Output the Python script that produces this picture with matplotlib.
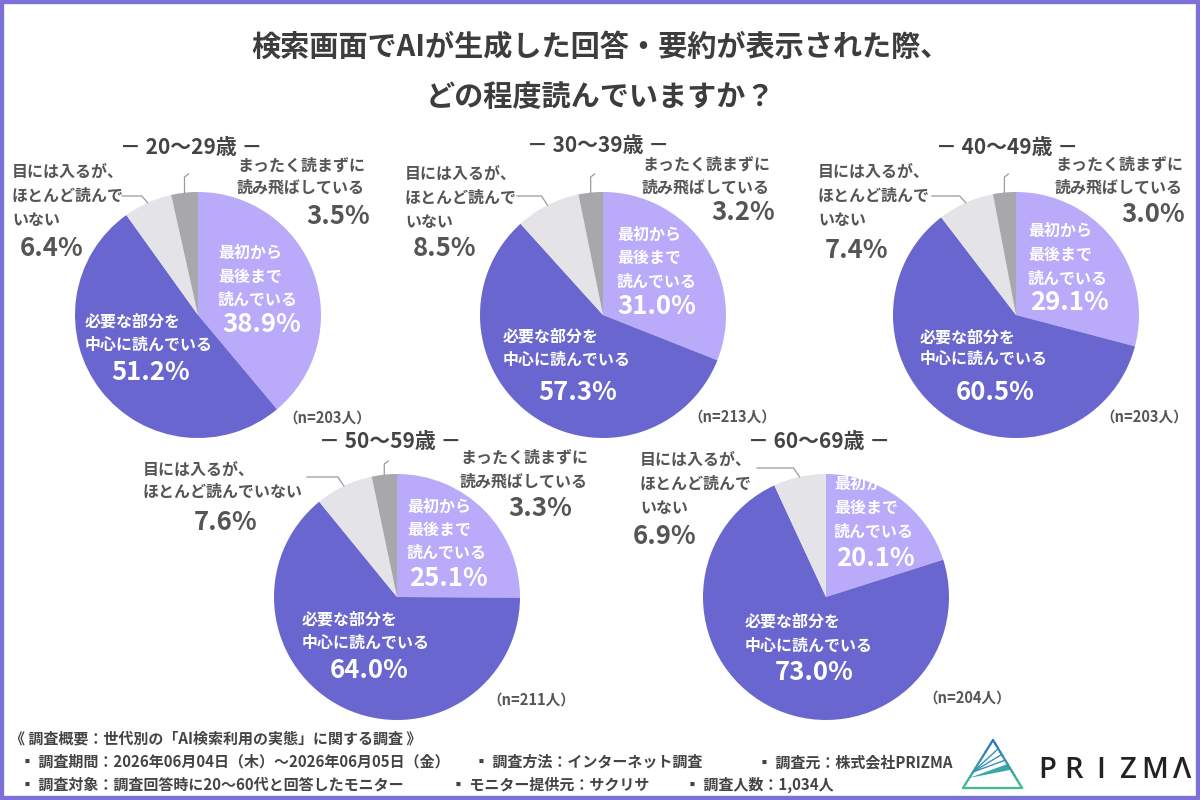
import matplotlib
matplotlib.use("Agg")
import matplotlib.pyplot as plt
import numpy as np
from matplotlib.patches import Rectangle, Polygon

JP = "Noto Sans CJK JP"
plt.rcParams["font.family"] = [JP, "DejaVu Sans"]

# --- data -------------------------------------------------------------------
age_groups = ["20〜29歳", "30〜39歳", "40〜49歳", "50〜59歳", "60〜69歳"]
sample_sizes = [203, 213, 203, 211, 204]
read_all = [38.9, 31.0, 29.1, 25.1, 20.1]        # 最初から最後まで読んでいる
read_needed = [51.2, 57.3, 60.5, 64.0, 73.0]     # 必要な部分を中心に読んでいる
glance_only = [6.4, 8.5, 7.4, 7.6, 6.9]          # 目には入るが、ほとんど読んでいない
skip_all = [3.5, 3.2, 3.0, 3.3, 0.0]             # まったく読まずに読み飛ばしている

lbl_all = ["最初から", "最後まで", "読んでいる"]
lbl_needed = ["必要な部分を", "中心に読んでいる"]
lbl_glance = ["目には入るが、", "ほとんど読んで", "いない"]
lbl_glance_wide = ["目には入るが、", "ほとんど読んでいない"]
lbl_skip = ["まったく読まずに", "読み飛ばしている"]

title_lines = ["検索画面でAIが生成した回答・要約が表示された際、", "どの程度読んでいますか？"]
footer_head = "《 調査概要：世代別の「AI検索利用の実態」に関する調査 》"
footer_row1 = ["▪ 調査期間：2026年06月04日（木）〜2026年06月05日（金）",
               "▪ 調査方法：インターネット調査", "▪ 調査元：株式会社PRIZMA"]
footer_row2 = ["▪ 調査対象：調査回答時に20〜60代と回答したモニター",
               "▪ モニター提供元：サクリサ", "▪ 調査人数：1,034人"]

# --- layout (pixel coords, origin top-left) ---------------------------------
layout = [
    dict(c=(198, 315), head=(191, 147), skip=(237, [166, 188]), skip_pct=(338, 217),
         gl=(12, [172, 196, 220]), gl_pct=(52, 249), gl_start=(122, 196),
         inn=(218, [253, 277, 300]), inn_pct=(262, 324),
         nd=(85, [322, 345]), nd_pct=(151, 373), n=(327, 418), lead_top=177),
    dict(c=(603, 315), head=(598, 146), skip=(642, [165, 187]), skip_pct=(743, 213),
         gl=(405, [174, 198, 222]), gl_pct=(445, 248), gl_start=(517, 196),
         inn=(617, [235, 258, 282]), inn_pct=(657, 306),
         nd=(503, [337, 360]), nd_pct=(578, 392), n=(732, 417), lead_top=177),
    dict(c=(1016, 315), head=(1007, 147), skip=(1055, [165, 188]), skip_pct=(1153, 214),
         gl=(818, [172, 196, 220]), gl_pct=(857, 250), gl_start=(932, 196),
         inn=(1028, [231, 255, 279]), inn_pct=(1069, 302),
         nd=(920, [338, 359]), nd_pct=(995, 392), n=(1144, 417), lead_top=177),
    dict(c=(397, 597), head=(390, 441), skip=(460, [458, 481]), skip_pct=(540, 508),
         gl=(143, [470, 492]), gl_pct=(226, 523), gl_start=(307, 477),
         inn=(407, [507, 530, 553]), inn_pct=(448, 578),
         nd=(302, [620, 643]), nd_pct=(369, 671), n=(531, 700), lead_top=464),
    dict(c=(826, 597), head=(819, 441), skip=None, skip_pct=None,
         gl=(640, [460, 484, 508]), gl_pct=(665, 536), gl_start=(757, 468),
         inn=(834, [484, 508, 532]), inn_pct=(875, 559),
         nd=(745, [622, 646]), nd_pct=(814, 673), n=(967, 698), lead_top=None),
]
RADIUS = 123
PCT_SIZE = 18.5

colors = ["#b9abfa", "#6a66cf", "#e4e4e8", "#a8a8ab"]
TXT = "#555555"
LEAD = "#9a9a9a"

fig = plt.figure(figsize=(12, 8), dpi=100)
fig.patch.set_facecolor("white")
ax = fig.add_axes([0, 0, 1, 1])


def text_lines(x, ys, lines, **kw):
    for y, s in zip(ys, lines):
        ax.text(x, y, s, ha="left", va="center", fontsize=11.5, fontweight="bold", **kw)


def pct(xy, v, color):
    ax.text(xy[0], xy[1], f"{v:.1f}%", ha="center", va="center",
            fontsize=PCT_SIZE, fontweight="bold", color=color)


def edge_point(cx, cy, wedge, r):
    th = np.deg2rad((wedge.theta1 + wedge.theta2) / 2)
    return cx + r * np.cos(th), cy + r * np.sin(th)


for i, lay in enumerate(layout):
    cx, cy = lay["c"]
    vals = [read_all[i], read_needed[i], glance_only[i], skip_all[i]]
    wedges, _ = ax.pie(vals, colors=colors, startangle=-90, counterclock=True,
                       center=(cx, cy), radius=RADIUS, frame=True,
                       wedgeprops=dict(linewidth=0))

    ax.text(lay["head"][0], lay["head"][1], f"－ {age_groups[i]} －", ha="center",
            va="center", fontsize=15, fontweight="bold", color="#444444")

    # inside labels
    text_lines(lay["inn"][0], lay["inn"][1], lbl_all, color="white")
    pct(lay["inn_pct"], read_all[i], "white")
    text_lines(lay["nd"][0], lay["nd"][1], lbl_needed, color="white")
    pct(lay["nd_pct"], read_needed[i], "white")

    # glance label + leader
    gl_text = lbl_glance_wide if len(lay["gl"][1]) == 2 else lbl_glance
    text_lines(lay["gl"][0], lay["gl"][1], gl_text, color=TXT)
    pct(lay["gl_pct"], glance_only[i], TXT)
    ax_, ay_ = edge_point(cx, cy, wedges[2], RADIUS)
    sx, sy = lay["gl_start"]
    ax.plot([sx, ax_ - 6, ax_], [sy, sy, ay_], color=LEAD, lw=0.9)

    # skip label + leader
    if skip_all[i] > 0:
        text_lines(lay["skip"][0], lay["skip"][1], lbl_skip, color=TXT)
        pct(lay["skip_pct"], skip_all[i], TXT)
        bx, by = edge_point(cx, cy, wedges[3], RADIUS)
        top = lay["lead_top"]
        ax.plot([bx, bx, bx + 4], [by, top, top - 3], color=LEAD, lw=0.9)

    ax.text(*lay["n"], f"（n={sample_sizes[i]}人）", ha="center", va="center",
            fontsize=10.5, fontweight="bold", color=TXT)

# title
for y, s in zip([47, 97], title_lines):
    ax.text(600, y, s, ha="center", va="center", fontsize=21, fontweight="bold",
            color="#3d3d3d")

# footer
FOOT = dict(va="center", ha="left", fontsize=10.8, fontweight="bold", color="#444444")
ax.text(10, 738, footer_head, **FOOT)
for x, s in zip([20, 474, 757], footer_row1):
    ax.text(x, 762, s, **FOOT)
for x, s in zip([20, 451, 685], footer_row2):
    ax.text(x, 785, s, **FOOT)

# logo
apex, bl, br = (993, 740), (963, 788), (1022, 788)
blue, teal = np.array([0.16, 0.45, 0.75]), np.array([0.25, 0.75, 0.55])
for p, q in [(apex, bl), (bl, br), (br, apex)]:
    for k in range(12):
        t0, t1 = k / 12, (k + 1) / 12
        x0, y0 = p[0] + (q[0] - p[0]) * t0, p[1] + (q[1] - p[1]) * t0
        x1, y1 = p[0] + (q[0] - p[0]) * t1, p[1] + (q[1] - p[1]) * t1
        f = ((y0 + y1) / 2 - 740) / 48
        ax.plot([x0, x1], [y0, y1], color=tuple(blue * (1 - f) + teal * f), lw=1.6,
                solid_capstyle="round")
for t in [0.18, 0.3, 0.42]:
    px, py = apex[0] + (br[0] - apex[0]) * t, apex[1] + (br[1] - apex[1]) * t
    ax.plot([bl[0] + 10, px], [bl[1] - 16, py], color="#3a8fb8", lw=1.0)
t1, t2 = 0.5, 0.62
p1 = (apex[0] + (br[0] - apex[0]) * t1, apex[1] + (br[1] - apex[1]) * t1)
p2 = (apex[0] + (br[0] - apex[0]) * t2, apex[1] + (br[1] - apex[1]) * t2)
ax.add_patch(Polygon([(bl[0] + 6, bl[1] - 10), p1, p2], closed=True,
                     facecolor="#3aa6a8", edgecolor="none"))
for k, ch in enumerate("PRIZMΛ"):
    ax.text(1047 + k * 27, 770, ch, ha="center", va="center", fontsize=21,
            fontweight="semibold", color="#222222", family=["Open Sans", "DejaVu Sans"])

ax.set_xlim(0, 1200)
ax.set_ylim(800, 0)
ax.set_aspect("auto")
ax.axis("off")

fig.patches.append(Rectangle((0, 0), 1, 1, transform=fig.transFigure, fill=False,
                             edgecolor="#7a70d8", linewidth=6, zorder=10))

fig.savefig("out.png", dpi=100, facecolor="white")
